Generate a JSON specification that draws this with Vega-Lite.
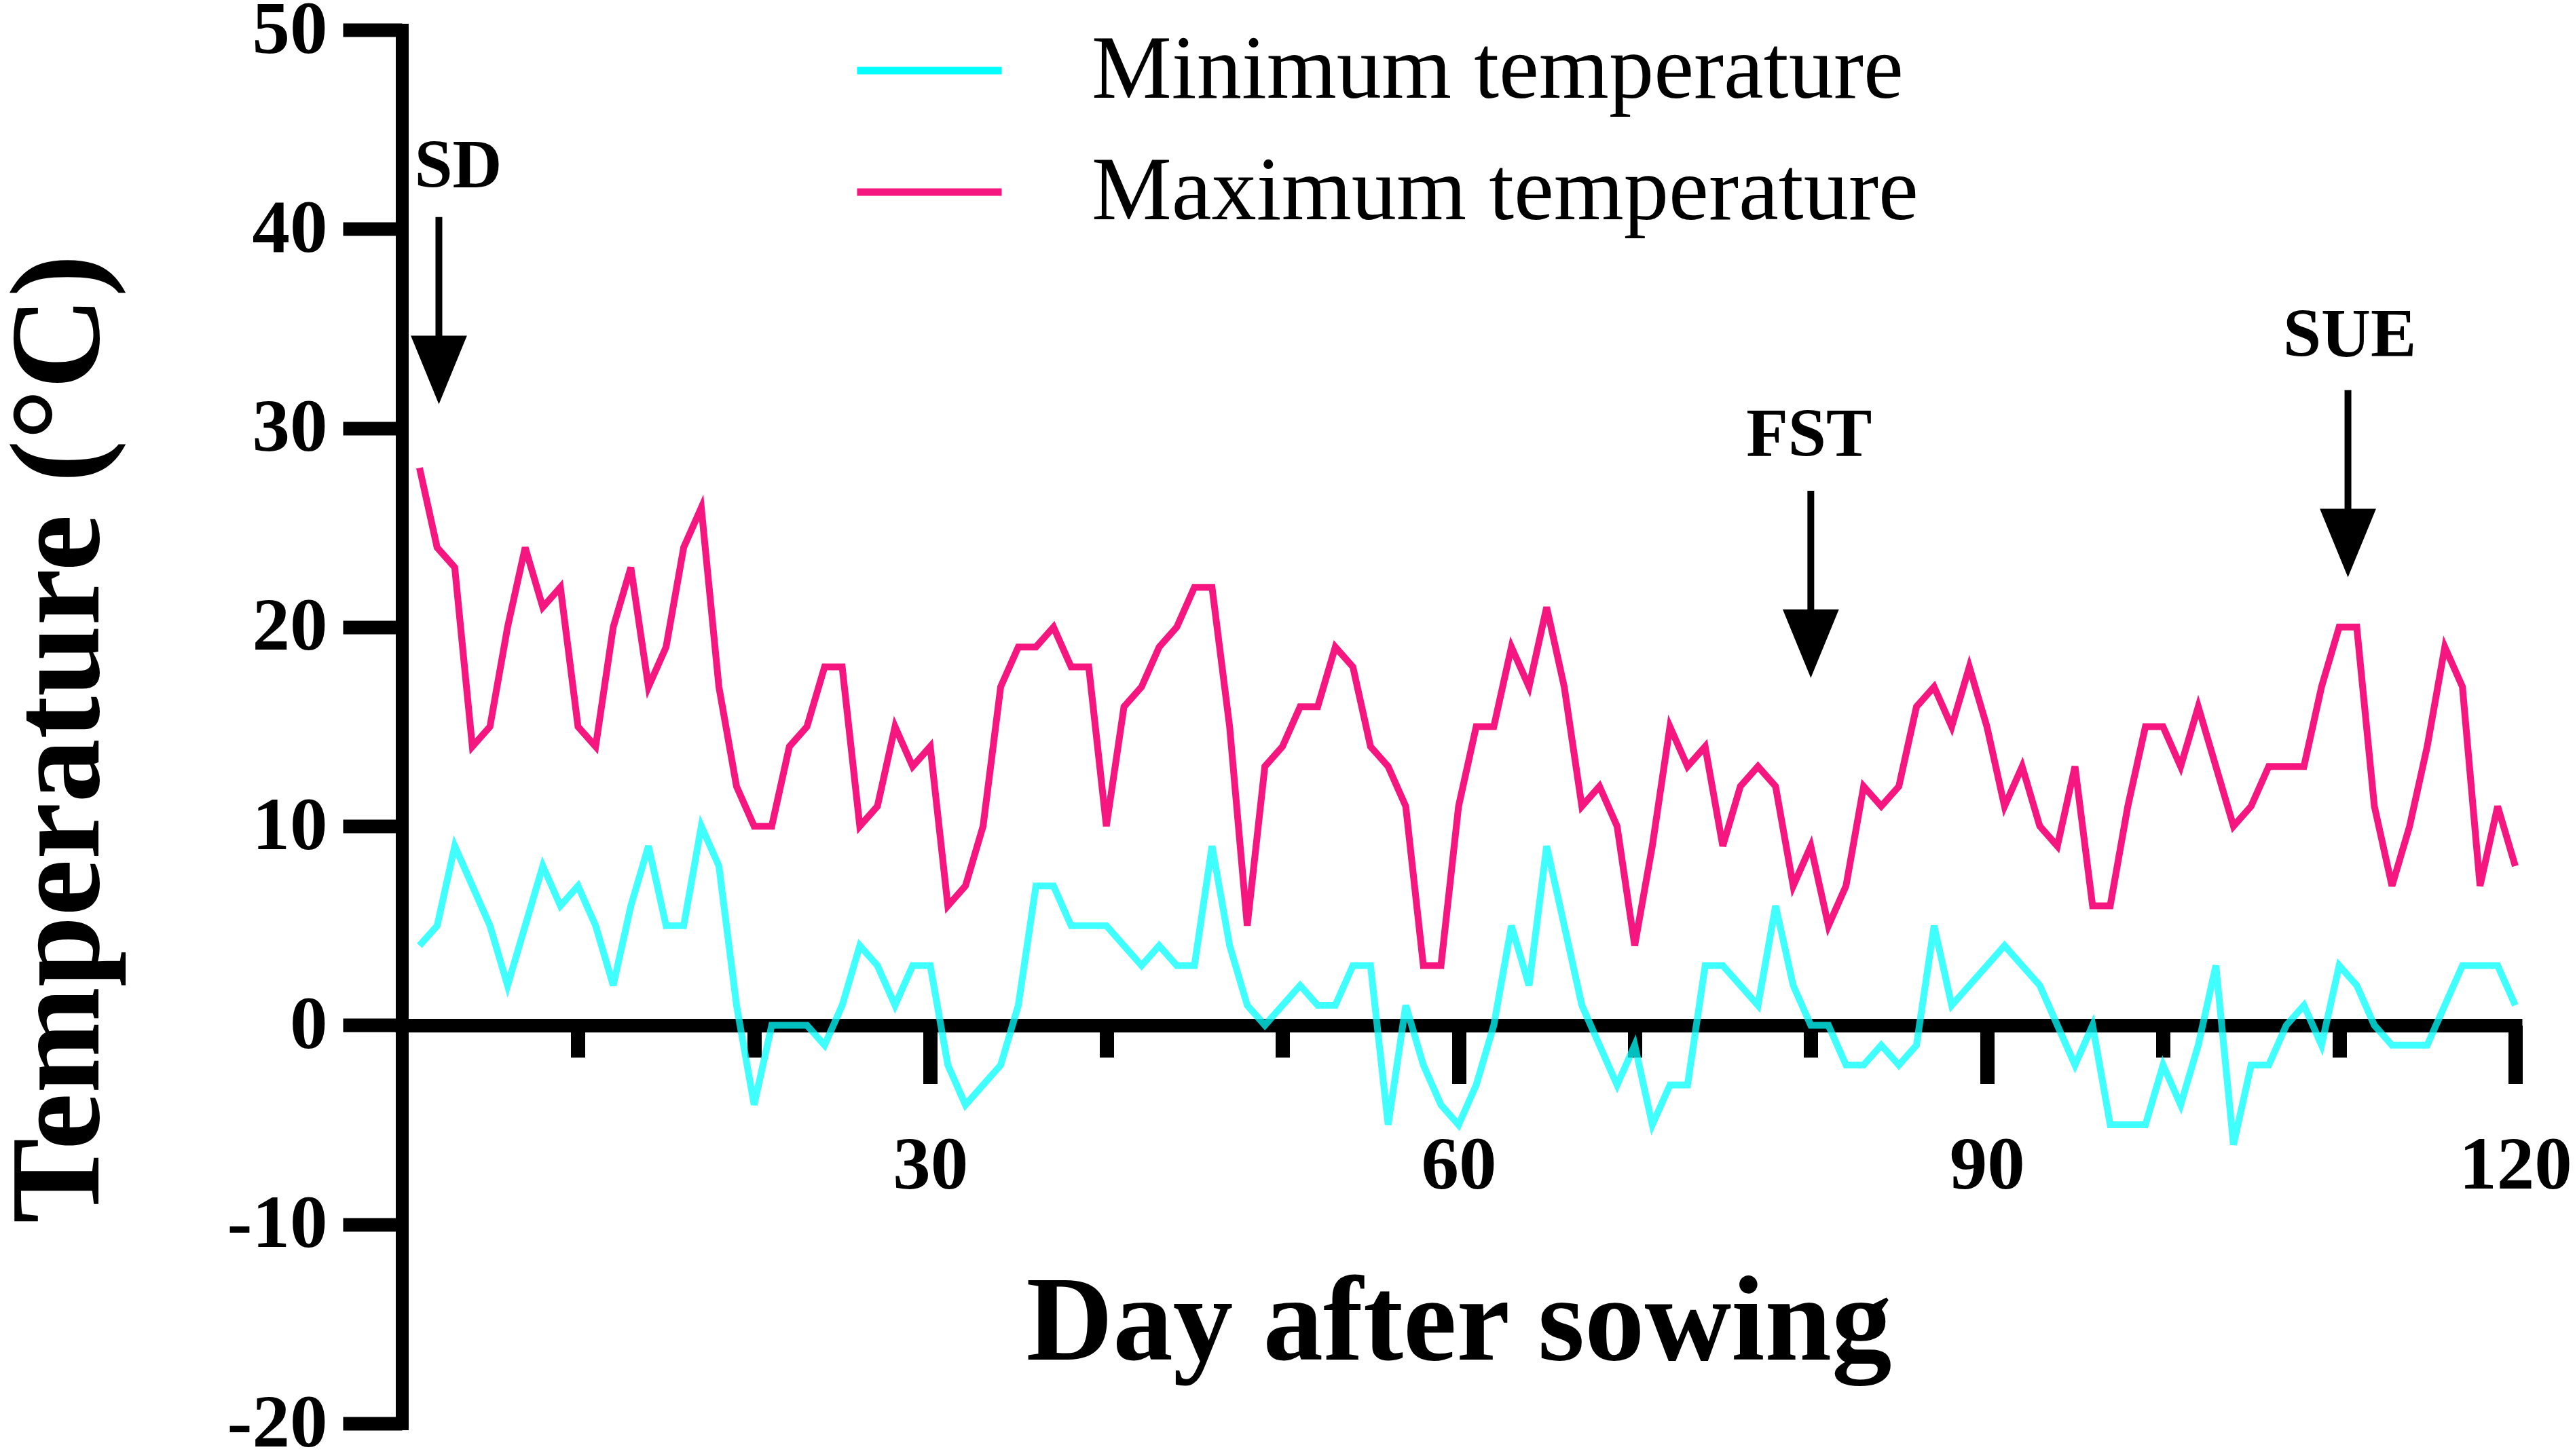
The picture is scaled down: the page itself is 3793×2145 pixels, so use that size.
{
  "$schema": "https://vega.github.io/schema/vega-lite/v6.json",
  "width": 3113,
  "height": 2053,
  "autosize": "none",
  "padding": {"left": 592, "top": 44, "right": 88, "bottom": 48},
  "background": "white",
  "config": {"view": {"stroke": null}, "font": "Liberation Serif"},
  "datasets": {
    "temps": [
      {"day": 1, "max": 28, "min": 4}, {"day": 2, "max": 24, "min": 5}, {"day": 3, "max": 23, "min": 9},
      {"day": 4, "max": 14, "min": 7}, {"day": 5, "max": 15, "min": 5}, {"day": 6, "max": 20, "min": 2},
      {"day": 7, "max": 24, "min": 5}, {"day": 8, "max": 21, "min": 8}, {"day": 9, "max": 22, "min": 6},
      {"day": 10, "max": 15, "min": 7}, {"day": 11, "max": 14, "min": 5}, {"day": 12, "max": 20, "min": 2},
      {"day": 13, "max": 23, "min": 6}, {"day": 14, "max": 17, "min": 9}, {"day": 15, "max": 19, "min": 5},
      {"day": 16, "max": 24, "min": 5}, {"day": 17, "max": 26, "min": 10}, {"day": 18, "max": 17, "min": 8},
      {"day": 19, "max": 12, "min": 1}, {"day": 20, "max": 10, "min": -4}, {"day": 21, "max": 10, "min": 0},
      {"day": 22, "max": 14, "min": 0}, {"day": 23, "max": 15, "min": 0}, {"day": 24, "max": 18, "min": -1},
      {"day": 25, "max": 18, "min": 1}, {"day": 26, "max": 10, "min": 4}, {"day": 27, "max": 11, "min": 3},
      {"day": 28, "max": 15, "min": 1}, {"day": 29, "max": 13, "min": 3}, {"day": 30, "max": 14, "min": 3},
      {"day": 31, "max": 6, "min": -2}, {"day": 32, "max": 7, "min": -4}, {"day": 33, "max": 10, "min": -3},
      {"day": 34, "max": 17, "min": -2}, {"day": 35, "max": 19, "min": 1}, {"day": 36, "max": 19, "min": 7},
      {"day": 37, "max": 20, "min": 7}, {"day": 38, "max": 18, "min": 5}, {"day": 39, "max": 18, "min": 5},
      {"day": 40, "max": 10, "min": 5}, {"day": 41, "max": 16, "min": 4}, {"day": 42, "max": 17, "min": 3},
      {"day": 43, "max": 19, "min": 4}, {"day": 44, "max": 20, "min": 3}, {"day": 45, "max": 22, "min": 3},
      {"day": 46, "max": 22, "min": 9}, {"day": 47, "max": 15, "min": 4}, {"day": 48, "max": 5, "min": 1},
      {"day": 49, "max": 13, "min": 0}, {"day": 50, "max": 14, "min": 1}, {"day": 51, "max": 16, "min": 2},
      {"day": 52, "max": 16, "min": 1}, {"day": 53, "max": 19, "min": 1}, {"day": 54, "max": 18, "min": 3},
      {"day": 55, "max": 14, "min": 3}, {"day": 56, "max": 13, "min": -5}, {"day": 57, "max": 11, "min": 1},
      {"day": 58, "max": 3, "min": -2}, {"day": 59, "max": 3, "min": -4}, {"day": 60, "max": 11, "min": -5},
      {"day": 61, "max": 15, "min": -3}, {"day": 62, "max": 15, "min": 0}, {"day": 63, "max": 19, "min": 5},
      {"day": 64, "max": 17, "min": 2}, {"day": 65, "max": 21, "min": 9}, {"day": 66, "max": 17, "min": 5},
      {"day": 67, "max": 11, "min": 1}, {"day": 68, "max": 12, "min": -1}, {"day": 69, "max": 10, "min": -3},
      {"day": 70, "max": 4, "min": -1}, {"day": 71, "max": 9, "min": -5}, {"day": 72, "max": 15, "min": -3},
      {"day": 73, "max": 13, "min": -3}, {"day": 74, "max": 14, "min": 3}, {"day": 75, "max": 9, "min": 3},
      {"day": 76, "max": 12, "min": 2}, {"day": 77, "max": 13, "min": 1}, {"day": 78, "max": 12, "min": 6},
      {"day": 79, "max": 7, "min": 2}, {"day": 80, "max": 9, "min": 0}, {"day": 81, "max": 5, "min": 0},
      {"day": 82, "max": 7, "min": -2}, {"day": 83, "max": 12, "min": -2}, {"day": 84, "max": 11, "min": -1},
      {"day": 85, "max": 12, "min": -2}, {"day": 86, "max": 16, "min": -1}, {"day": 87, "max": 17, "min": 5},
      {"day": 88, "max": 15, "min": 1}, {"day": 89, "max": 18, "min": 2}, {"day": 90, "max": 15, "min": 3},
      {"day": 91, "max": 11, "min": 4}, {"day": 92, "max": 13, "min": 3}, {"day": 93, "max": 10, "min": 2},
      {"day": 94, "max": 9, "min": 0}, {"day": 95, "max": 13, "min": -2}, {"day": 96, "max": 6, "min": 0},
      {"day": 97, "max": 6, "min": -5}, {"day": 98, "max": 11, "min": -5}, {"day": 99, "max": 15, "min": -5},
      {"day": 100, "max": 15, "min": -2}, {"day": 101, "max": 13, "min": -4}, {"day": 102, "max": 16, "min": -1},
      {"day": 103, "max": 13, "min": 3}, {"day": 104, "max": 10, "min": -6}, {"day": 105, "max": 11, "min": -2},
      {"day": 106, "max": 13, "min": -2}, {"day": 107, "max": 13, "min": 0}, {"day": 108, "max": 13, "min": 1},
      {"day": 109, "max": 17, "min": -1}, {"day": 110, "max": 20, "min": 3}, {"day": 111, "max": 20, "min": 2},
      {"day": 112, "max": 11, "min": 0}, {"day": 113, "max": 7, "min": -1}, {"day": 114, "max": 10, "min": -1},
      {"day": 115, "max": 14, "min": -1}, {"day": 116, "max": 19, "min": 1}, {"day": 117, "max": 17, "min": 3},
      {"day": 118, "max": 7, "min": 3}, {"day": 119, "max": 11, "min": 3}, {"day": 120, "max": 8, "min": 1}
    ],
    "stages": [
      {"label": "SD", "textDay": 3.2, "textY": 42.1, "arrowDay": 2.1, "top": 40.6, "neck": 34.0, "tip": 31.2},
      {"label": "FST", "textDay": 79.9, "textY": 28.6, "arrowDay": 80, "top": 26.85, "neck": 20.3, "tip": 17.45},
      {"label": "SUE", "textDay": 110.6, "textY": 33.6, "arrowDay": 110.5, "top": 31.9, "neck": 25.3, "tip": 22.5}
    ]
  },
  "layer": [
    {
      "data": {"name": "temps"},
      "transform": [{"fold": ["min", "max"], "as": ["series", "temp"]}],
      "mark": {"type": "line", "strokeWidth": 10, "strokeJoin": "miter"},
      "encoding": {
        "x": {
          "field": "day", "type": "quantitative",
          "scale": {"domain": [0, 120], "nice": false, "zero": false},
          "axis": {
            "title": "Day after sowing",
            "titleFont": "Liberation Serif", "titleFontSize": 177, "titleFontWeight": "bold",
            "titleColor": "black", "titleBaseline": "alphabetic", "titleY": 492,
            "offset": -586.6,
            "values": [10, 20, 30, 40, 50, 60, 70, 80, 90, 100, 110, 120],
            "grid": false,
            "domainColor": "black", "domainWidth": 20, "domainCap": "square",
            "tickColor": "black", "tickWidth": 21,
            "tickSize": {"condition": {"test": "datum.value % 30 === 0", "value": 86}, "value": 47},
            "labelExpr": "datum.value % 30 === 0 ? '' + datum.value : ''",
            "labelFont": "Liberation Serif", "labelFontSize": 111, "labelFontWeight": "bold",
            "labelColor": "black", "labelBaseline": "alphabetic", "labelPadding": 154,
            "labelOverlap": false, "labelFlush": false
          }
        },
        "y": {
          "field": "temp", "type": "quantitative",
          "scale": {"domain": [-20, 50], "nice": false, "zero": false},
          "axis": {
            "title": "Temperature (°C)",
            "titleFont": "Liberation Serif", "titleFontSize": 188, "titleFontWeight": "bold",
            "titleColor": "black", "titleBaseline": "alphabetic", "titleX": -448, "titleY": 1044,
            "values": [-20, -10, 0, 10, 20, 30, 40, 50],
            "grid": false,
            "domainColor": "black", "domainWidth": 19, "domainCap": "square",
            "tickColor": "black", "tickWidth": 20, "tickSize": 87,
            "labelExpr": "'' + datum.value",
            "labelFont": "Liberation Serif", "labelFontSize": 111, "labelFontWeight": "bold",
            "labelColor": "black", "labelPadding": 23, "labelOverlap": false
          }
        },
        "color": {
          "field": "series", "type": "nominal",
          "scale": {"domain": ["min", "max"], "range": ["#00FFFF", "#F5167F"]},
          "legend": {
            "title": null, "orient": "none", "legendX": 665, "legendY": -52,
            "padding": 0, "symbolType": "stroke", "symbolSize": 45369, "symbolStrokeWidth": 11,
            "labelExpr": "datum.value === 'min' ? 'Minimum temperature' : 'Maximum temperature'",
            "labelFont": "Liberation Serif", "labelFontSize": 132.5, "labelColor": "black",
            "labelOffset": 127, "labelLimit": 3000, "rowPadding": 0
          }
        },
        "strokeOpacity": {"condition": {"test": "datum.series === 'min'", "value": 0.75}, "value": 1}
      }
    },
    {
      "data": {"name": "stages"},
      "mark": {"type": "rule", "color": "black", "strokeWidth": 10},
      "encoding": {
        "x": {"field": "arrowDay", "type": "quantitative"},
        "y": {"field": "top", "type": "quantitative"},
        "y2": {"field": "neck"}
      }
    },
    {
      "data": {"name": "stages"},
      "mark": {"type": "point", "shape": "M-0.82,-2L0.82,-2L0,0Z", "size": 10201, "filled": true, "color": "black", "opacity": 1, "strokeWidth": 0},
      "encoding": {
        "x": {"field": "arrowDay", "type": "quantitative"},
        "y": {"field": "tip", "type": "quantitative"}
      }
    },
    {
      "data": {"name": "stages"},
      "mark": {"type": "text", "font": "Liberation Serif", "fontSize": 101, "fontWeight": "bold", "color": "black", "baseline": "alphabetic", "align": "center"},
      "encoding": {
        "x": {"field": "textDay", "type": "quantitative"},
        "y": {"field": "textY", "type": "quantitative"},
        "text": {"field": "label"}
      }
    }
  ]
}
